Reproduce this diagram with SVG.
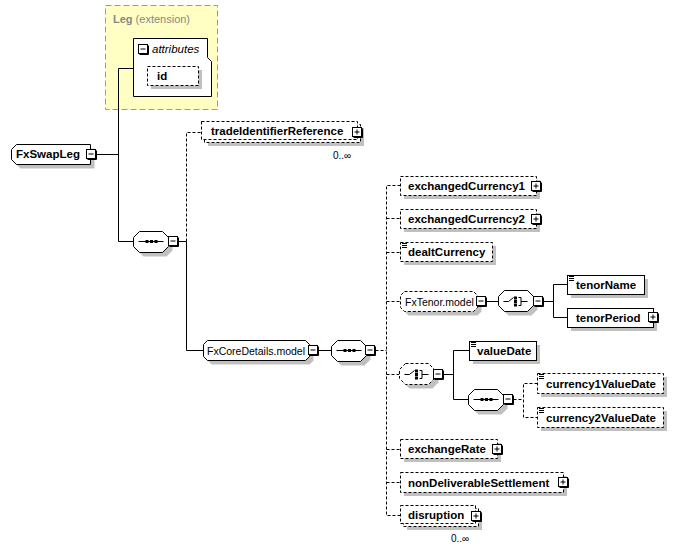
<svg xmlns="http://www.w3.org/2000/svg" xmlns:xlink="http://www.w3.org/1999/xlink" width="690" height="551" viewBox="0 0 690 551">
<style>
.b{fill:#fff;stroke:#000;stroke-width:1}
.o{stroke-dasharray:3,2}
.s{fill:#c0c0c0;stroke:none}
.c{fill:none;stroke:#000;stroke-width:1}
.d{stroke-dasharray:3,2}
.t{font-family:"Liberation Sans",Arial,sans-serif;font-size:11.5px;font-weight:bold;fill:#000}
.g{font-family:"Liberation Sans",Arial,sans-serif;font-size:10.5px;fill:#000}
.m{font-family:"Liberation Sans",Arial,sans-serif;font-size:10px;fill:#000}
</style>
<defs>
<g id="minus"><rect x="0.5" y="0.5" width="9" height="9" fill="#fff" stroke="#000"/><path d="M10.5,1.5V10.5H1.5" fill="none" stroke="#000"/><path d="M2.5,5H7.5" stroke="#000"/></g>
<g id="plus"><rect x="0.5" y="0.5" width="9" height="9" fill="#fff" stroke="#000"/><path d="M10.5,1.5V10.5H1.5" fill="none" stroke="#000"/><path d="M2.5,5H7.5M5,2.5V7.5" stroke="#000"/></g>
<path id="icon" d="M0,0.5H5M0,2.5H5M0,4.5H5" stroke="#000" fill="none"/>
<path id="comp" d="M6,0H29L35,6V15L29,21H6L0,15V6Z"/>
<g id="seqsym"><path d="M5,0H30" stroke="#000"/><rect x="12" y="-1.5" width="3" height="3" fill="#000"/><rect x="16.5" y="-1.5" width="3" height="3" fill="#000"/><rect x="21" y="-1.5" width="3" height="3" fill="#000"/></g>
<g id="chosym"><path d="M5,0H10L15,-4M20,-4H22.5V4H20M22.5,0H29" stroke="#000" fill="none"/><rect x="15.5" y="-5" width="3" height="3" fill="#000"/><rect x="15.5" y="-1.5" width="3" height="3" fill="#000"/><rect x="15.5" y="2" width="3" height="3" fill="#000"/></g>
</defs>

<g id="leg-extension">
<rect x="105.5" y="5.5" width="112" height="104" fill="#ffffc4" stroke="#999" stroke-dasharray="6,3"/>
<text x="113" y="23" font-family="Liberation Sans, Arial, sans-serif" font-size="11" fill="#888"><tspan font-weight="bold">Leg</tspan> (extension)</text>
</g>
<g id="attributes">
<path class="b" d="M133.5,38.5H207.5V57.5L211.5,61.5V96.5H133.5Z"/>
<use xlink:href="#minus" x="138" y="44"/>
<text x="152" y="53" font-family="Liberation Sans, Arial, sans-serif" font-size="11.5" font-style="italic">attributes</text>
</g>
<g id="attr-id">
<rect class="s" x="151" y="70" width="51" height="19"/>
<rect class="b o" x="147.5" y="66.5" width="51" height="19"/>
<text class="t" x="157" y="80">id</text>
</g>

<g id="connectors" class="c">
<path d="M96,154.5H118.5"/>
<path d="M118.5,68.5H133.5M118.5,68.5V241.5H133.5"/>
<path d="M178.5,241.5H186.5V350.5H203.5"/>
<path class="d" d="M186.5,241.5V132.5H201.5"/>
<path d="M318.5,350.5H331.5"/>
<path class="d" d="M375.5,350.5H386.5"/>
<path class="d" d="M400.5,185.5H386.5V515.5H400.5M386.5,218.5H400.5M386.5,252.5H400.5M386.5,301.5H400.5M386.5,374.5H399.5M386.5,449.5H400.5M386.5,482.5H400.5"/>
<path d="M486.5,301.5H498.5"/>
<path d="M543.5,301.5H553.5M567.5,284.5H553.5V317.5H567.5"/>
<path d="M443.5,374.5H453.5M469.5,350.5H453.5V399.5H468.5"/>
<path class="d" d="M513.5,399.5H523.5M537.5,383.5H523.5V417.5H537.5"/>
</g>

<g id="FxSwapLeg">
<path class="s" d="M20.5,148.5H94.5V168.5H20.5L15.5,163.5V153.5Z"/>
<path class="b" d="M16.5,144.5H90.5V164.5H16.5L11.5,159.5V149.5Z"/>
<text class="t" x="16" y="158">FxSwapLeg</text>
<use xlink:href="#minus" x="86" y="149"/>
</g>

<g id="seq1">
<use xlink:href="#comp" class="s" transform="translate(137.5,235.5)"/>
<use xlink:href="#comp" class="b" transform="translate(133.5,231.5)"/>
<use xlink:href="#seqsym" transform="translate(133.5,241.5)"/>
<use xlink:href="#minus" x="168" y="236"/>
</g>

<g id="tradeIdentifierReference">
<rect class="s" x="208" y="128" width="156" height="18"/>
<rect class="b o" x="204.5" y="124.5" width="156" height="18"/>
<rect class="b o" x="201.5" y="121.5" width="156" height="18"/>
<text class="t" x="211" y="135">tradeIdentifierReference</text>
<use xlink:href="#plus" x="352" y="127"/>
<text class="m" x="333" y="159">0..∞</text>
</g>

<g id="FxCoreDetails.model">
<path class="s" d="M211.5,344.5H309.5L313.5,348.5V360.5L309.5,364.5H211.5L207.5,360.5V348.5Z"/>
<path class="b" d="M207.5,340.5H305.5L309.5,344.5V356.5L305.5,360.5H207.5L203.5,356.5V344.5Z"/>
<text class="g" x="207" y="355">FxCoreDetails.model</text>
<use xlink:href="#minus" x="308" y="345"/>
</g>

<g id="seq2">
<use xlink:href="#comp" class="s" transform="translate(335.5,344.5)"/>
<use xlink:href="#comp" class="b" transform="translate(331.5,340.5)"/>
<use xlink:href="#seqsym" transform="translate(331.5,350.5)"/>
<use xlink:href="#minus" x="365" y="345"/>
</g>

<g id="exchangedCurrency1">
<rect class="s" x="404" y="180" width="136" height="19"/>
<rect class="b o" x="400.5" y="176.5" width="136" height="19"/>
<text class="t" x="408" y="190">exchangedCurrency1</text>
<use xlink:href="#plus" x="531" y="181"/>
</g>

<g id="exchangedCurrency2">
<rect class="s" x="404" y="213" width="136" height="19"/>
<rect class="b o" x="400.5" y="209.5" width="136" height="19"/>
<text class="t" x="408" y="223">exchangedCurrency2</text>
<use xlink:href="#plus" x="531" y="214"/>
</g>

<g id="dealtCurrency">
<rect class="s" x="404" y="246" width="92" height="19"/>
<rect class="b o" x="400.5" y="242.5" width="92" height="19"/>
<use xlink:href="#icon" x="402" y="243"/>
<text class="t" x="408" y="256">dealtCurrency</text>
</g>

<g id="FxTenor.model">
<path class="s" d="M408.5,295.5H477.5L481.5,299.5V311.5L477.5,315.5H408.5L404.5,311.5V299.5Z"/>
<path class="b o" d="M404.5,291.5H473.5L477.5,295.5V307.5L473.5,311.5H404.5L400.5,307.5V295.5Z"/>
<text class="g" x="405" y="306">FxTenor.model</text>
<use xlink:href="#minus" x="476" y="296"/>
</g>

<g id="choice1">
<use xlink:href="#comp" class="s" transform="translate(502.5,294.5)"/>
<use xlink:href="#comp" class="b" transform="translate(498.5,290.5)"/>
<use xlink:href="#chosym" transform="translate(498.5,301.5)"/>
<use xlink:href="#minus" x="533" y="296"/>
</g>

<g id="tenorName">
<rect class="s" x="571" y="279" width="77" height="19"/>
<rect class="b" x="567.5" y="275.5" width="77" height="19"/>
<use xlink:href="#icon" x="569" y="276"/>
<text class="t" x="576" y="289">tenorName</text>
</g>

<g id="tenorPeriod">
<rect class="s" x="571" y="312" width="86" height="19"/>
<rect class="b" x="567.5" y="308.5" width="86" height="19"/>
<text class="t" x="576" y="322">tenorPeriod</text>
<use xlink:href="#plus" x="648" y="312"/>
</g>

<g id="choice2">
<use xlink:href="#comp" class="s" transform="translate(403.5,367.5)"/>
<use xlink:href="#comp" class="b o" transform="translate(399.5,363.5)"/>
<use xlink:href="#chosym" transform="translate(399.5,374.5)"/>
<use xlink:href="#minus" x="433" y="369"/>
</g>

<g id="valueDate">
<rect class="s" x="473" y="345" width="67" height="19"/>
<rect class="b" x="469.5" y="341.5" width="67" height="19"/>
<use xlink:href="#icon" x="471" y="342"/>
<text class="t" x="477" y="355">valueDate</text>
</g>

<g id="seq3">
<use xlink:href="#comp" class="s" transform="translate(472.5,393.5)"/>
<use xlink:href="#comp" class="b" transform="translate(468.5,389.5)"/>
<use xlink:href="#seqsym" transform="translate(468.5,399.5)"/>
<use xlink:href="#minus" x="503" y="394"/>
</g>

<g id="currency1ValueDate">
<rect class="s" x="541" y="377" width="126" height="20"/>
<rect class="b o" x="537.5" y="373.5" width="126" height="20"/>
<use xlink:href="#icon" x="539" y="374"/>
<text class="t" x="546" y="388">currency1ValueDate</text>
</g>

<g id="currency2ValueDate">
<rect class="s" x="541" y="411" width="126" height="20"/>
<rect class="b o" x="537.5" y="407.5" width="126" height="20"/>
<use xlink:href="#icon" x="539" y="408"/>
<text class="t" x="546" y="422">currency2ValueDate</text>
</g>

<g id="exchangeRate">
<rect class="s" x="404" y="443" width="97" height="19"/>
<rect class="b o" x="400.5" y="439.5" width="97" height="19"/>
<text class="t" x="408" y="453">exchangeRate</text>
<use xlink:href="#plus" x="492" y="444"/>
</g>

<g id="nonDeliverableSettlement">
<rect class="s" x="404" y="476" width="163" height="20"/>
<rect class="b o" x="400.5" y="472.5" width="163" height="20"/>
<text class="t" x="408" y="487">nonDeliverableSettlement</text>
<use xlink:href="#plus" x="558" y="477"/>
</g>

<g id="disruption">
<rect class="s" x="407" y="512" width="75" height="18"/>
<rect class="b o" x="403.5" y="508.5" width="75" height="18"/>
<rect class="b o" x="400.5" y="505.5" width="75" height="18"/>
<text class="t" x="408" y="519">disruption</text>
<use xlink:href="#plus" x="471" y="511"/>
<text class="m" x="451" y="542">0..∞</text>
</g>
</svg>
